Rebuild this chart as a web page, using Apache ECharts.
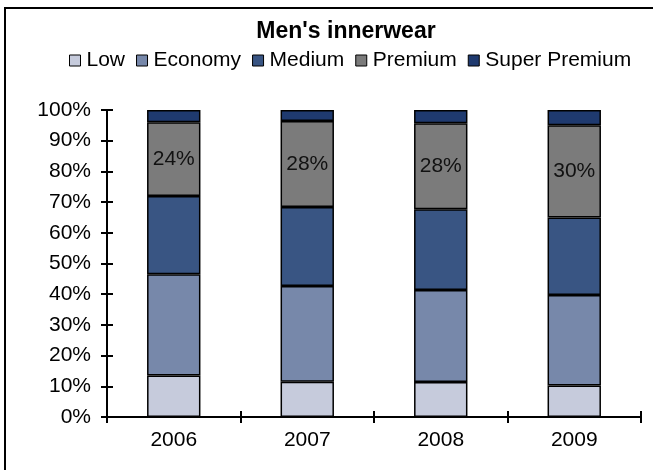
<!DOCTYPE html>
<html>
<head>
<meta charset="utf-8">
<script src="https://cdn.jsdelivr.net/npm/echarts@6/dist/echarts.min.js"></script>
<style>
  html, body { margin: 0; padding: 0; background: #fff; }
  #chart { width: 653px; height: 470px; }
</style>
</head>
<body>
<div id="chart"></div>
<script>
// Share of men's innerwear by price segment, per year (percent of total)
const years = ['2006', '2007', '2008', '2009'];
const low = [13.5, 11.5, 11.4, 10.3];
const economy = [33.0, 31.2, 30.0, 29.4];
const medium = [25.5, 25.7, 26.3, 25.3];
const premium = [24, 28, 28, 30];
const superPremium = [4.0, 3.6, 4.3, 5.0];
const yTicks = [0, 10, 20, 30, 40, 50, 60, 70, 80, 90, 100];

const FONT = '"Liberation Sans", Arial, sans-serif';

const segments = [
  { name: 'Low', data: low, color: '#c6cbdc' },
  { name: 'Economy', data: economy, color: '#7788aa' },
  { name: 'Medium', data: medium, color: '#395583' },
  { name: 'Premium', data: premium, color: '#7b7b7b', showLabel: true },
  { name: 'Super Premium', data: superPremium, color: '#1f3a6f' }
];

const chart = echarts.init(document.getElementById('chart'), null, { renderer: 'canvas' });

const yMin = yTicks[0];
const yMax = yTicks[yTicks.length - 1];
const yStep = yTicks[1] - yTicks[0];

chart.setOption({
  animation: false,
  backgroundColor: '#fff',
  textStyle: { fontFamily: FONT },
  title: {
    text: "Men's innerwear",
    left: 341,
    textAlign: 'center',
    top: 15,
    textStyle: { fontFamily: FONT, fontSize: 23, fontWeight: 'bold', color: '#000' }
  },
  legend: {
    left: 64,
    top: 45,
    itemWidth: 11,
    itemHeight: 11,
    itemGap: 11,
    icon: 'rect',
    textStyle: { fontFamily: FONT, fontSize: 21, color: '#000', padding: [0, 0, 0, 1] },
    data: segments.map(s => ({ name: s.name, itemStyle: { borderColor: '#000', borderWidth: 1 } }))
  },
  grid: { left: 107, right: 12, top: 110, bottom: 53 },
  xAxis: [
    {
      type: 'category',
      data: years,
      position: 'bottom',
      axisLine: { lineStyle: { color: '#000', width: 2 } },
      axisTick: { show: true, length: 6, lineStyle: { color: '#000', width: 2 } },
      axisLabel: { color: '#000', fontSize: 21, fontFamily: FONT, margin: 13 }
    },
    {
      type: 'category',
      data: years,
      position: 'bottom',
      axisLine: { show: false },
      axisTick: { show: true, inside: true, length: 6, lineStyle: { color: '#000', width: 2 } },
      axisLabel: { show: false }
    }
  ],
  yAxis: [
    {
      type: 'value',
      min: yMin,
      max: yMax,
      interval: yStep,
      position: 'left',
      splitLine: { show: false },
      axisLine: { show: true, lineStyle: { color: '#000', width: 2 } },
      axisTick: { show: true, length: 6, lineStyle: { color: '#000', width: 2 } },
      axisLabel: { color: '#000', fontSize: 21, fontFamily: FONT, margin: 16, formatter: '{value}%' }
    },
    {
      type: 'value',
      min: yMin,
      max: yMax,
      interval: yStep,
      position: 'left',
      splitLine: { show: false },
      axisLine: { show: false },
      axisTick: { show: true, inside: true, length: 6, lineStyle: { color: '#000', width: 2 } },
      axisLabel: { show: false }
    }
  ],
  graphic: [
    {
      type: 'rect',
      shape: { x: 5, y: 8, width: 700, height: 520 },
      style: { fill: 'none', stroke: '#000', lineWidth: 2 },
      silent: true,
      z: 100
    }
  ],
  series: segments.map(s => ({
    name: s.name,
    type: 'bar',
    stack: 'total',
    xAxisIndex: 0,
    yAxisIndex: 0,
    barCategoryGap: '60%',
    data: s.data,
    itemStyle: { color: s.color, borderColor: '#000', borderWidth: 1.5 },
    label: s.showLabel ? {
      show: true,
      position: 'inside',
      formatter: '{c}%',
      color: '#111',
      fontSize: 21,
      fontFamily: FONT
    } : { show: false }
  }))
});
</script>
</body>
</html>
